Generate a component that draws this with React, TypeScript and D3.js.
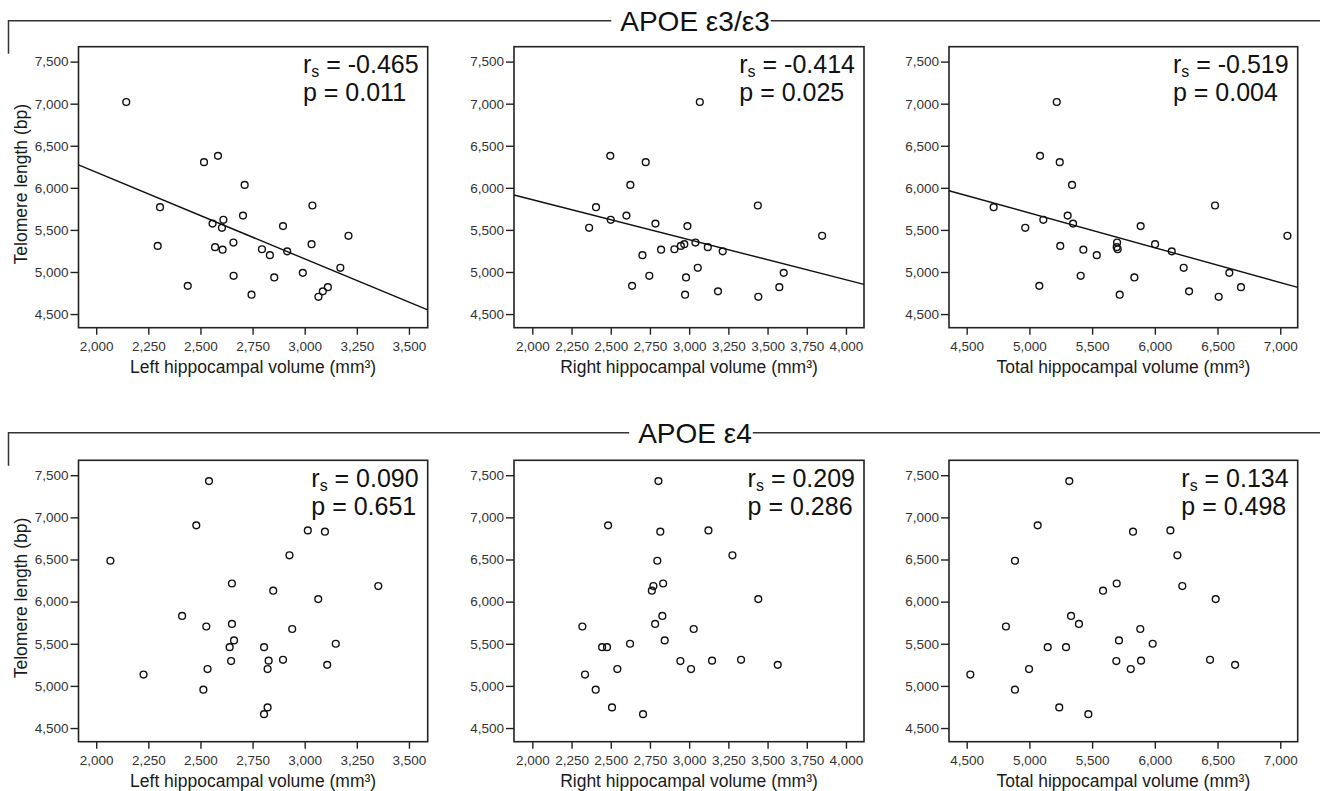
import React, { useRef, useEffect } from 'react';
import * as d3 from 'd3';

// APOE e3/e3 subjects: telomere length and hippocampal volumes, same order in every array
const e33Telomere = [7020, 6380, 6305, 6035, 5790, 5770, 5670, 5620, 5575, 5545, 5525, 5430, 5350, 5330, 5310, 5295, 5270, 5265, 5245, 5200, 5050, 4990, 4955, 4935, 4835, 4820, 4770, 4730, 4705];
const e33Left = [2144, 2584, 2517, 2712, 3037, 2306, 2704, 2610, 2558, 2896, 2603, 3210, 2658, 3033, 2295, 2570, 2795, 2606, 2916, 2833, 3171, 2991, 2659, 2854, 2439, 3111, 3087, 2745, 3066];
const e33Right = [3068, 2497, 2723, 2625, 3438, 2406, 2600, 2500, 2785, 2989, 2362, 3848, 3040, 2969, 2947, 3119, 2906, 2821, 3214, 2702, 3055, 3603, 2746, 2980, 2636, 3575, 3184, 2974, 3441];
const e33Total = [5218, 5085, 5242, 5340, 6480, 4715, 5305, 5111, 5348, 5887, 4967, 7057, 5699, 6002, 5246, 5696, 5704, 5430, 6135, 5537, 6230, 6594, 5409, 5837, 5079, 6687, 6273, 5720, 6509];

// APOE e4 carriers
const e4Telomere = [7430, 6905, 6845, 6830, 6550, 6485, 6215, 6185, 6130, 6030, 5830, 5735, 5705, 5675, 5540, 5500, 5460, 5460, 5310, 5300, 5295, 5250, 5200, 5200, 5135, 4955, 4745, 4665];
const e4Left = [2541, 2480, 3015, 3097, 2927, 2068, 2651, 3353, 2849, 3065, 2412, 2651, 2528, 2940, 2661, 3149, 2640, 2805, 2896, 2827, 2647, 3108, 2822, 2534, 2227, 2514, 2822, 2805];
const e4Right = [2804, 2483, 3123, 2816, 3276, 2797, 2834, 2772, 2762, 3441, 2829, 2783, 2319, 3029, 2844, 2623, 2445, 2476, 3331, 3146, 2944, 3565, 3012, 2542, 2336, 2404, 2508, 2706];
const e4Total = [5318, 5066, 6124, 5826, 6180, 4885, 5696, 6219, 5587, 6485, 5332, 5395, 4813, 5884, 5714, 5983, 5146, 5292, 6440, 5890, 5693, 6640, 5808, 4997, 4529, 4885, 5238, 5470];

// Spearman results per panel (left, right, total)
const e33Rs = ['-0.465', '-0.414', '-0.519'];
const e33P = ['0.011', '0.025', '0.004'];
const e4Rs = ['0.090', '0.209', '0.134'];
const e4P = ['0.651', '0.286', '0.498'];

// fitted lines for e3/e3 panels: [intercept, slope]
const e33Fits = [[8243, -1.029], [6811, -0.4758], [7766, -0.413]];

const yTicks = [4500, 5000, 5500, 6000, 6500, 7000, 7500];
const leftTicks = [2000, 2250, 2500, 2750, 3000, 3250, 3500];
const rightTicks = [2000, 2250, 2500, 2750, 3000, 3250, 3500, 3750, 4000];
const totalTicks = [4500, 5000, 5500, 6000, 6500, 7000];

const xLabels = ['Left hippocampal volume (mm³)', 'Right hippocampal volume (mm³)', 'Total hippocampal volume (mm³)'];
const yLabel = 'Telomere length (bp)';

const W = 1320;
const H = 791;
const FONT = '"Liberation Sans", Arial, Helvetica, sans-serif';

const columns = [
  { left: 78.5, right: 427.7, domain: [1915, 3590], ticks: leftTicks },
  { left: 514, right: 864, domain: [1883, 4115], ticks: rightTicks },
  { left: 949, right: 1297.7, domain: [4359, 7139], ticks: totalTicks },
];

const rows = [
  {
    title: 'APOE ε3/ε3', lineY: 20.7, top: 46.7, bottom: 327.7,
    y: e33Telomere, xs: [e33Left, e33Right, e33Total], rs: e33Rs, p: e33P, fits: e33Fits,
  },
  {
    title: 'APOE ε4', lineY: 432.7, top: 460.3, bottom: 741.7,
    y: e4Telomere, xs: [e4Left, e4Right, e4Total], rs: e4Rs, p: e4P, fits: null,
  },
];

const App = () => {
  const chartRef = useRef<SVGSVGElement>(null);

  useEffect(() => {
    const svg = d3.select(chartRef.current);
    svg.selectAll('*').remove();
    svg.style('font-family', FONT);

    rows.forEach(row => {
      // group header with bracket line
      const title = svg.append('text')
        .attr('x', 695)
        .attr('y', row.lineY + 10)
        .attr('text-anchor', 'middle')
        .style('font-size', '28px')
        .attr('fill', '#111')
        .text(row.title);
      const bb = (title.node() as SVGTextElement).getBBox();

      svg.append('path')
        .attr('d', `M8.5,${row.lineY + 33}V${row.lineY}H${bb.x - 9}`)
        .attr('fill', 'none')
        .attr('stroke', '#333')
        .attr('stroke-width', 1.5);
      svg.append('path')
        .attr('d', `M${bb.x + bb.width + 1},${row.lineY}H${W}`)
        .attr('fill', 'none')
        .attr('stroke', '#333')
        .attr('stroke-width', 1.5);

      const yScale = d3.scaleLinear()
        .domain([4338, 7677])
        .range([row.bottom, row.top]);

      columns.forEach((col, ci) => {
        const xScale = d3.scaleLinear()
          .domain(col.domain)
          .range([col.left, col.right]);
        const g = svg.append('g');

        const yAxis = g.append('g')
          .attr('transform', `translate(${col.left},0)`)
          .call(d3.axisLeft(yScale).tickValues(yTicks).tickSize(8).tickPadding(2).tickFormat(d3.format(',')));
        const xAxis = g.append('g')
          .attr('transform', `translate(0,${row.bottom})`)
          .call(d3.axisBottom(xScale).tickValues(col.ticks).tickSize(7).tickPadding(6.5).tickFormat(d3.format(',')));

        [yAxis, xAxis].forEach(ax => {
          ax.select('.domain').remove();
          ax.selectAll('line').attr('stroke', '#222').attr('stroke-width', 1.4);
          ax.selectAll('text')
            .style('font-family', FONT)
            .style('font-size', '13.5px')
            .attr('fill', '#333');
        });

        g.append('rect')
          .attr('x', col.left)
          .attr('y', row.top)
          .attr('width', col.right - col.left)
          .attr('height', row.bottom - row.top)
          .attr('fill', 'none')
          .attr('stroke', '#222')
          .attr('stroke-width', 1.6);

        if (row.fits) {
          const [b0, b1] = row.fits[ci];
          const line = d3.line<number>()
            .x(d => xScale(d))
            .y(d => yScale(b0 + b1 * d));
          g.append('path')
            .datum(col.domain)
            .attr('d', line)
            .attr('fill', 'none')
            .attr('stroke', '#111')
            .attr('stroke-width', 1.4);
        }

        g.selectAll('circle.pt')
          .data(row.xs[ci])
          .enter()
          .append('circle')
          .attr('class', 'pt')
          .attr('cx', d => xScale(d))
          .attr('cy', (d, i) => yScale(row.y[i]))
          .attr('r', 3.4)
          .attr('fill', 'none')
          .attr('stroke', '#111')
          .attr('stroke-width', 1.4);

        // Spearman annotation
        const rText = g.append('text')
          .attr('x', col.right - 9)
          .attr('y', row.top + 26.5)
          .attr('text-anchor', 'end')
          .style('font-size', '25px')
          .attr('fill', '#111');
        rText.append('tspan').text('r');
        rText.append('tspan').attr('dy', 4).style('font-size', '16px').text('s');
        rText.append('tspan').attr('dy', -4).text(` = ${row.rs[ci]}`);
        const rb = (rText.node() as SVGTextElement).getBBox();

        g.append('text')
          .attr('x', rb.x)
          .attr('y', row.top + 54.5)
          .style('font-size', '25px')
          .attr('fill', '#111')
          .text(`p = ${row.p[ci]}`);

        g.append('text')
          .attr('x', (col.left + col.right) / 2)
          .attr('y', row.bottom + 45)
          .attr('text-anchor', 'middle')
          .style('font-size', '17.5px')
          .attr('fill', '#1a1a1a')
          .text(xLabels[ci]);

        if (ci === 0) {
          g.append('text')
            .attr('transform', `translate(27,${(row.top + row.bottom) / 2 - 3}) rotate(-90)`)
            .attr('text-anchor', 'middle')
            .style('font-size', '17.5px')
            .attr('fill', '#1a1a1a')
            .text(yLabel);
        }
      });
    });
  }, []);

  return (
    <svg
      ref={chartRef}
      width={W}
      height={H}
      style={{ position: 'absolute', left: 0, top: 0, background: 'white' }}
    ></svg>
  );
};

export default App;
